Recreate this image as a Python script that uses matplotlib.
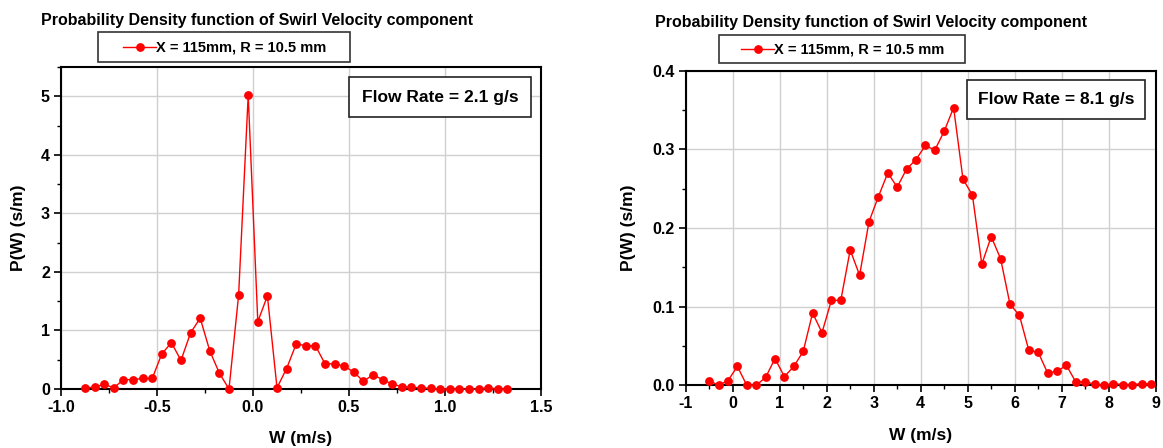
import numpy as np
import matplotlib.pyplot as plt
from matplotlib.patches import Rectangle
from matplotlib.ticker import MultipleLocator

plt.rcParams['font.family'] = ['Liberation Sans', 'DejaVu Sans']
plt.rcParams['font.weight'] = 'bold'
plt.rcParams['axes.unicode_minus'] = False

# left panel: flow rate 2.1 g/s
w_low = -0.875 + 0.05 * np.arange(45)
p_low = [0.02, 0.03, 0.08, 0.02, 0.16, 0.16, 0.18, 0.18, 0.60, 0.79,
         0.49, 0.96, 1.21, 0.65, 0.27, 0.0, 1.60, 5.02, 1.15, 1.59,
         0.02, 0.35, 0.77, 0.74, 0.74, 0.43, 0.43, 0.39, 0.29, 0.13,
         0.245, 0.16, 0.085, 0.04, 0.03, 0.02, 0.01, 0.0, 0.0, 0.0,
         0.0, 0.0, 0.02, 0.0, 0.0]
xticks_low = [-1.0, -0.5, 0.0, 0.5, 1.0, 1.5]
yticks_low = [0, 1, 2, 3, 4, 5]

# right panel: flow rate 8.1 g/s
w_high = -0.5 + 0.2 * np.arange(48)
p_high = [0.006, 0.0, 0.006, 0.024, 0.0, 0.0, 0.010, 0.034, 0.011, 0.024,
          0.043, 0.092, 0.067, 0.108, 0.108, 0.172, 0.140, 0.208, 0.240, 0.270,
          0.252, 0.275, 0.287, 0.305, 0.299, 0.323, 0.353, 0.262, 0.242, 0.154,
          0.189, 0.161, 0.103, 0.089, 0.0445, 0.042, 0.0157, 0.0178, 0.0254, 0.0042,
          0.0047, 0.0013, 0.0004, 0.002, 0.001, 0.001, 0.002, 0.002]
xticks_high = list(range(-1, 10))
yticks_high = [0.0, 0.1, 0.2, 0.3, 0.4]

title = 'Probability Density function of Swirl Velocity component'
series_label = 'X = 115mm, R = 10.5 mm'

W, H = 1163, 448
fig = plt.figure(figsize=(W / 100, H / 100), dpi=100)


def px(x0, y0, x1, y1):
    # pixel box (top-left origin) -> figure fraction rect
    return [x0 / W, 1 - y1 / H, (x1 - x0) / W, (y1 - y0) / H]


def panel(rect, w, p, xlim, ylim, xt, xfmt, xmin, yt, yfmt, ymin,
          title_xy, leg_box, flow_box, flow_text, ylab_x, xlab_y):
    ax = fig.add_axes(rect)
    ax.plot(w, p, color='#ff0000', lw=1.0, marker='o', ms=5.3, mec='#ff0000',
            mfc='#ff0000', zorder=3, clip_on=False)
    ax.set_xticks(xt, [xfmt.format(v) for v in xt], fontweight='bold')
    ax.set_yticks(yt, [yfmt.format(v) for v in yt], fontweight='bold')
    ax.xaxis.set_minor_locator(MultipleLocator(xmin))
    ax.yaxis.set_minor_locator(MultipleLocator(ymin))
    ax.set_xlim(*xlim)
    ax.set_ylim(*ylim)
    ax.grid(True, which='major', color='#d0d0d0', lw=1.0, zorder=0)
    ax.tick_params(which='major', direction='out', length=5, width=1.2,
                   labelsize=11.5, pad=3)
    ax.tick_params(which='minor', direction='out', length=3, width=1.0)
    for s in ax.spines.values():
        s.set_linewidth(1.5)

    fig.text(title_xy[0] / W, 1 - title_xy[1] / H, title, ha='center',
             va='center', fontsize=11.5, fontweight='bold')

    # legend box
    x0, y0, x1, y1 = leg_box
    fig.patches.append(Rectangle((x0 / W, 1 - y1 / H), (x1 - x0) / W,
                                 (y1 - y0) / H, transform=fig.transFigure,
                                 fill=False, ec='#333333', lw=1.2))
    cx, cy = (x0 + x1) / 2, (y0 + y1) / 2
    hx0 = cx - 101
    fig.lines.append(plt.Line2D([hx0 / W, (hx0 + 33) / W], [1 - cy / H] * 2,
                                transform=fig.transFigure, color='#ff0000',
                                lw=1.0))
    fig.lines.append(plt.Line2D([(hx0 + 16.5) / W], [1 - cy / H],
                                transform=fig.transFigure, color='#ff0000',
                                marker='o', ms=5.3, lw=0))
    fig.text((hx0 + 33) / W, 1 - cy / H, series_label, ha='left',
             va='center', fontsize=10.5, fontweight='bold')

    # flow rate annotation
    x0, y0, x1, y1 = flow_box
    fig.patches.append(Rectangle((x0 / W, 1 - y1 / H), (x1 - x0) / W,
                                 (y1 - y0) / H, transform=fig.transFigure,
                                 fill=True, fc='white', ec='#222222', lw=1.2,
                                 zorder=5))
    fig.text((x0 + x1) / 2 / W, 1 - (y0 + y1) / 2 / H, flow_text,
             ha='center', va='center', fontsize=12.5, fontweight='bold',
             zorder=6)

    fig.text(ylab_x / W, rect[1] + rect[3] / 2, 'P(W) (s/m)', rotation=90,
             ha='center', va='center', fontsize=12.5, fontweight='bold')
    fig.text(rect[0] + rect[2] / 2, 1 - xlab_y / H, 'W (m/s)', ha='center',
             va='center', fontsize=12.5, fontweight='bold')
    return ax


panel(px(61, 67, 541, 389), w_low, p_low, (-1.0, 1.5), (0, 5.5),
      xticks_low, '{:.1f}', 0.25, yticks_low, '{:d}', 0.5,
      (257, 20), (98, 32, 350, 62), (349, 77, 531, 117),
      'Flow Rate = 2.1 g/s', 19, 438)

panel(px(685.7, 70.7, 1155.7, 385.3), w_high, p_high, (-1, 9), (0, 0.4),
      xticks_high, '{:d}', 0.5, yticks_high, '{:.1f}', 0.05,
      (871, 23), (719, 35, 965, 63), (967, 80, 1145, 119),
      'Flow Rate = 8.1 g/s', 629, 435)

fig.savefig('out.png', dpi=100)
